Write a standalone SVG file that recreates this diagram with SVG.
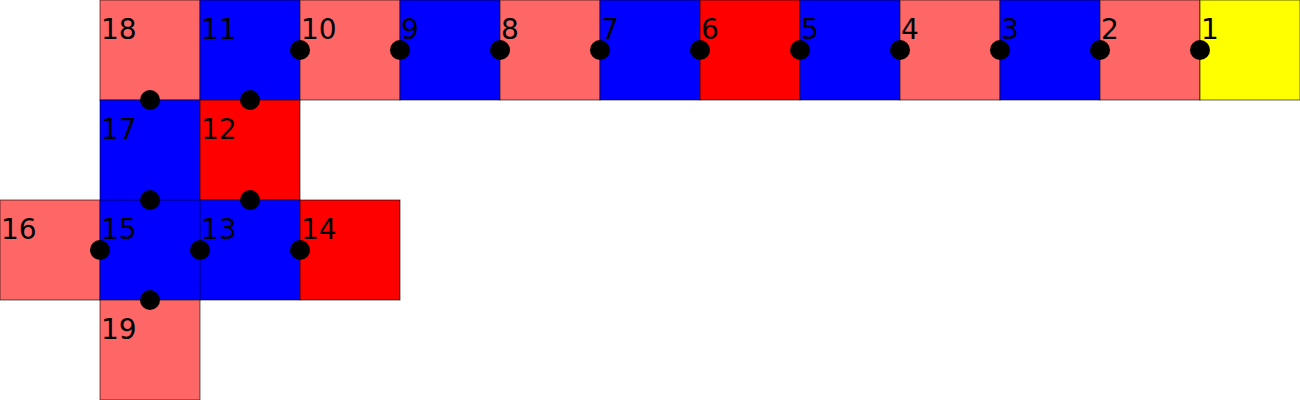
<svg xmlns="http://www.w3.org/2000/svg" width="1300" height="400" viewBox="0 0 1300 400">
<style>
rect{stroke:#000;stroke-opacity:0.6;stroke-width:1}
.l{fill:#ff6666}.b{fill:#0000ff}.r{fill:#ff0000}.y{fill:#ffff00}
text{font-family:"DejaVu Sans",sans-serif;font-size:28px;fill:#000}
circle{fill:#000}
</style>
<rect x="0" y="0" width="1300" height="400" fill="#fff" style="stroke:none"/>
<g id="n18"><rect class="l" x="100" y="0" width="100" height="100"/><text x="101" y="39">18</text></g>
<g id="n11"><rect class="b" x="200" y="0" width="100" height="100"/><text x="201" y="39">11</text></g>
<g id="n10"><rect class="l" x="300" y="0" width="100" height="100"/><text x="301" y="39">10</text></g>
<g id="n9"><rect class="b" x="400" y="0" width="100" height="100"/><text x="401" y="39">9</text></g>
<g id="n8"><rect class="l" x="500" y="0" width="100" height="100"/><text x="501" y="39">8</text></g>
<g id="n7"><rect class="b" x="600" y="0" width="100" height="100"/><text x="601" y="39">7</text></g>
<g id="n6"><rect class="r" x="700" y="0" width="100" height="100"/><text x="701" y="39">6</text></g>
<g id="n5"><rect class="b" x="800" y="0" width="100" height="100"/><text x="801" y="39">5</text></g>
<g id="n4"><rect class="l" x="900" y="0" width="100" height="100"/><text x="901" y="39">4</text></g>
<g id="n3"><rect class="b" x="1000" y="0" width="100" height="100"/><text x="1001" y="39">3</text></g>
<g id="n2"><rect class="l" x="1100" y="0" width="100" height="100"/><text x="1101" y="39">2</text></g>
<g id="n1"><rect class="y" x="1200" y="0" width="100" height="100"/><text x="1201" y="39">1</text></g>
<g id="n17"><rect class="b" x="100" y="100" width="100" height="100"/><text x="101" y="139">17</text></g>
<g id="n12"><rect class="r" x="200" y="100" width="100" height="100"/><text x="201" y="139">12</text></g>
<g id="n16"><rect class="l" x="0" y="200" width="100" height="100"/><text x="1" y="239">16</text></g>
<g id="n15"><rect class="b" x="100" y="200" width="100" height="100"/><text x="101" y="239">15</text></g>
<g id="n13"><rect class="b" x="200" y="200" width="100" height="100"/><text x="201" y="239">13</text></g>
<g id="n14"><rect class="r" x="300" y="200" width="100" height="100"/><text x="301" y="239">14</text></g>
<g id="n19"><rect class="l" x="100" y="300" width="100" height="100"/><text x="101" y="339">19</text></g>
<g id="connectors">
<circle cx="300" cy="50" r="10"/><circle cx="400" cy="50" r="10"/><circle cx="500" cy="50" r="10"/>
<circle cx="600" cy="50" r="10"/><circle cx="700" cy="50" r="10"/><circle cx="800" cy="50" r="10"/>
<circle cx="900" cy="50" r="10"/><circle cx="1000" cy="50" r="10"/><circle cx="1100" cy="50" r="10"/>
<circle cx="1200" cy="50" r="10"/>
<circle cx="150" cy="100" r="10"/><circle cx="250" cy="100" r="10"/>
<circle cx="150" cy="200" r="10"/><circle cx="250" cy="200" r="10"/>
<circle cx="100" cy="250" r="10"/><circle cx="200" cy="250" r="10"/><circle cx="300" cy="250" r="10"/>
<circle cx="150" cy="300" r="10"/>
</g>
</svg>
